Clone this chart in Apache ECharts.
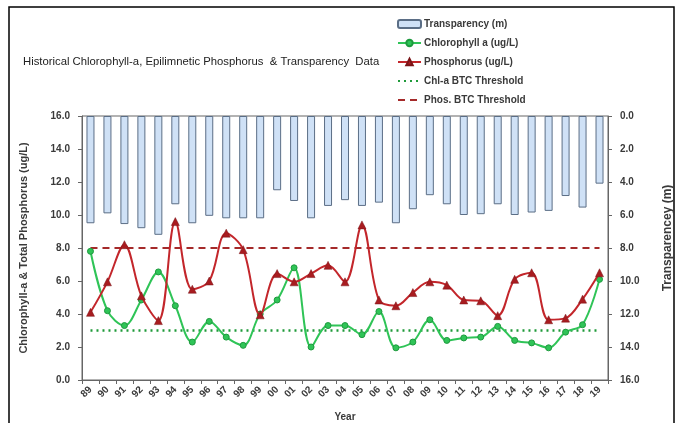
<!DOCTYPE html>
<html>
<head>
<meta charset="utf-8">
<script src="https://cdn.jsdelivr.net/npm/echarts@6/dist/echarts.min.js"></script>
<style>
html,body{margin:0;padding:0;background:#fff;}
#c{width:678px;height:423px;}
</style>
</head>
<body>
<div id="c"></div>
<script>
var years = ['89','90','91','92','93','94','95','96','97','98','99','00','01','02','03','04','05','06','07','08','09','10','11','12','13','14','15','16','17','18','19'];
var transparency = [6.5,5.9,6.55,6.8,7.2,5.35,6.5,6.05,6.2,6.2,6.2,4.5,5.15,6.2,5.45,5.1,5.45,5.25,6.5,5.65,4.8,5.35,6.0,5.95,5.35,6.0,5.85,5.75,4.85,5.55,4.1];
var chlorophyll = [7.8,4.2,3.3,4.85,6.55,4.5,2.3,3.55,2.6,2.1,4.0,4.85,6.8,2.0,3.3,3.3,2.75,4.15,1.95,2.3,3.65,2.4,2.55,2.6,3.25,2.4,2.25,1.95,2.9,3.35,6.1];
var phosphorus = [4.1,5.95,8.2,5.1,3.6,9.6,5.5,6.0,8.9,7.9,3.95,6.45,5.95,6.45,6.95,5.95,9.4,4.85,4.5,5.3,5.95,5.75,4.85,4.8,3.9,6.1,6.5,3.65,3.75,4.9,6.5];
var chlThreshold = 3.0;
var phosThreshold = 8.0;

var chl_btc = years.map(function(){return chlThreshold;});
var phos_btc = years.map(function(){return phosThreshold;});

var font = 'Liberation Sans';
var txt = '#3a3a3a';
var hidden = {color:'rgba(0,0,0,0)', borderWidth:0, borderColor:'rgba(0,0,0,0)'};
var chart = echarts.init(document.getElementById('c'));
chart.setOption({
  animation:false,
  backgroundColor:'#fff',
  textStyle:{fontFamily:font},
  graphic:[
    {type:'rect', shape:{x:9,y:7,width:665,height:440}, style:{fill:'none',stroke:'#000',lineWidth:1.5}},
    {type:'text', left:23, top:56, style:{text:'Historical Chlorophyll-a, Epilimnetic Phosphorus  & Transparency  Data', fontFamily:font, fontSize:11.3, fill:'#222'}}
  ],
  legend:{
    orient:'vertical', left:397, top:19, padding:0, itemWidth:23, itemHeight:8, itemGap:9,
    textStyle:{fontSize:10, fontWeight:'bold', color:txt, fontFamily:font, padding:[0,0,0,-2]},
    data:[
      'Transparency (m)',
      'Chlorophyll a (ug/L)',
      'Phosphorus (ug/L)',
      {name:'Chl-a BTC Threshold', itemStyle:hidden},
      {name:'Phos. BTC Threshold', itemStyle:hidden}
    ]
  },
  grid:{left:82, right:70, top:116, bottom:43, show:true, borderColor:'#666', borderWidth:1, containLabel:false, outerBoundsMode:'none'},
  xAxis:{
    type:'category', data:years, name:'Year', nameLocation:'middle', nameGap:32,
    nameTextStyle:{fontSize:10, fontWeight:'bold', color:txt},
    axisLine:{lineStyle:{color:'#666'}}, axisTick:{show:true, length:4, lineStyle:{color:'#666'}},
    axisLabel:{interval:0, rotate:45, fontSize:10, fontWeight:'bold', color:txt, margin:8}
  },
  yAxis:[
    {type:'value', min:0, max:16, interval:2, name:'Chlorophyll-a & Total Phosphorus (ug/L)', nameLocation:'middle', nameGap:53,
     nameTextStyle:{fontSize:11, fontWeight:'bold', color:txt},
     axisLine:{show:true, lineStyle:{color:'#666'}}, axisTick:{show:true, length:4, lineStyle:{color:'#666'}},
     splitLine:{show:false},
     axisLabel:{fontSize:10, fontWeight:'bold', color:txt, margin:12, formatter:function(v){return v.toFixed(1);}}},
    {type:'value', min:0, max:16, interval:2, inverse:true, position:'right', name:'Transparencey (m)', nameLocation:'middle', nameGap:54, nameRotate:90,
     nameTextStyle:{fontSize:12, fontWeight:'bold', color:txt, padding:[0,0,0,20]},
     axisLine:{show:true, lineStyle:{color:'#666'}}, axisTick:{show:true, length:4, lineStyle:{color:'#666'}},
     splitLine:{show:false},
     axisLabel:{fontSize:10, fontWeight:'bold', color:txt, margin:12, formatter:function(v){return v.toFixed(1);}}}
  ],
  series:[
    {name:'Transparency (m)', type:'bar', yAxisIndex:1, data:transparency, barWidth:8,
     itemStyle:{color:'#cfe1f6', borderColor:'#5b6e86', borderWidth:1}},
    {name:'Chl-a BTC Threshold', type:'line', data:chl_btc, symbol:'none', z:2,
     lineStyle:{color:'#1f9a3a', width:2.5, type:[2,4]}, itemStyle:{color:'#1f9a3a'}},
    {name:'Phos. BTC Threshold', type:'line', data:phos_btc, symbol:'none', z:2,
     lineStyle:{color:'#a52a2a', width:2, type:[7,5]}, itemStyle:{color:'#a52a2a'}},
    {name:'Chlorophyll a (ug/L)', type:'line', data:chlorophyll, smooth:0.35, symbol:'circle', symbolSize:6, z:4,
     lineStyle:{color:'#2fc457', width:2}, itemStyle:{color:'#2fc457', borderColor:'#1e9a3e', borderWidth:1}},
    {name:'Phosphorus (ug/L)', type:'line', data:phosphorus, smooth:0.35, symbol:'triangle', symbolSize:8, z:5,
     lineStyle:{color:'#c3262b', width:2}, itemStyle:{color:'#a81c20', borderColor:'#7a1518', borderWidth:0.5}}
  ]
});
</script>
</body>
</html>
